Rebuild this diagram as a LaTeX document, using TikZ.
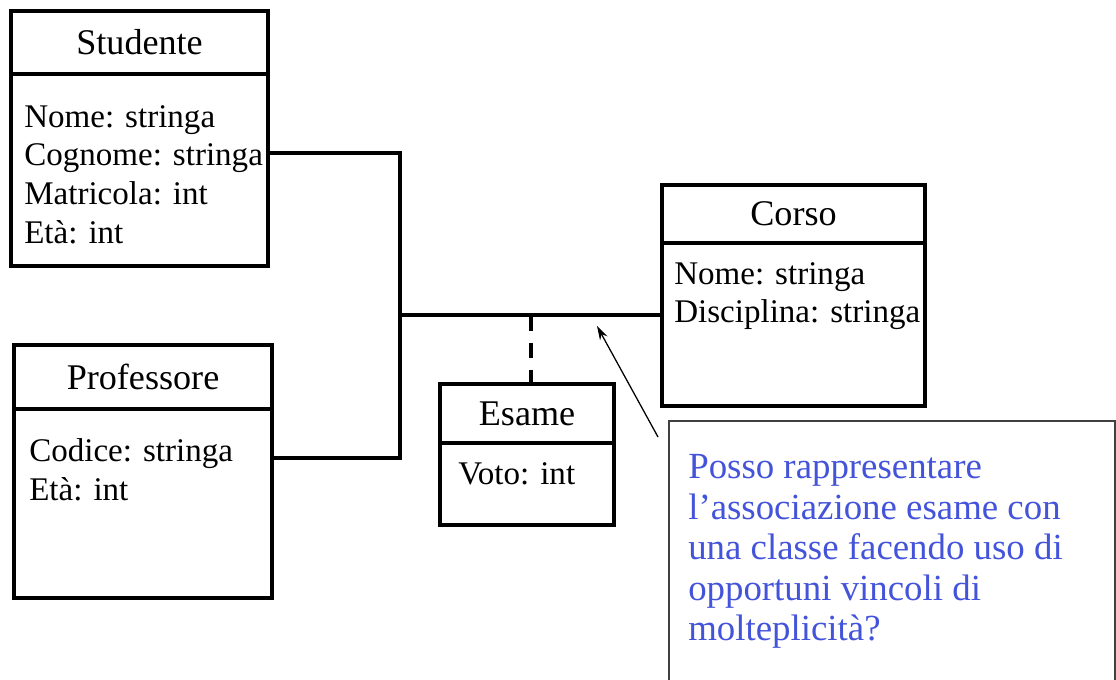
\documentclass[tikz,border=0pt]{standalone}
\usepackage{fontspec}
\setmainfont{Liberation Serif}
\usetikzlibrary{positioning,arrows.meta}
\definecolor{noteblue}{RGB}{68,84,218}

\begin{document}
\begin{tikzpicture}[
    x=0.025cm, y=-0.025cm,
    box/.style={draw, line width=2.3pt, outer sep=0pt, inner sep=0pt},
    classname/.style={box, font=\fontsize{25.7}{30}\selectfont},
    classbody/.style={box},
    attrs/.style={anchor=north west, align=left, inner sep=0pt, font=\fontsize{23.5}{27.6}\selectfont},
    assoc/.style={line width=2.3pt},
    notebox/.style={draw=black!75, line width=1pt, outer sep=0pt},
    notetext/.style={anchor=north west, align=left, inner sep=0pt, text=noteblue, font=\fontsize{26.2}{28.9}\selectfont}
]
\clip (0,0) rectangle (1116,679);

% Studente
\node[classname, minimum width=6.425cm, minimum height=1.575cm, anchor=north west] (stud) at (11,11) {Studente};
\node[classbody, minimum width=6.425cm, minimum height=4.8cm, below=0pt of stud] (studA) {};
\node[attrs] (studL) at (24,105) {Nome: stringa\\Cognome: stringa\\Matricola: int\\Età: int};

% Professore
\node[classname, minimum width=6.45cm, minimum height=1.6cm, anchor=north west] (prof) at (14,345) {Professore};
\node[classbody, minimum width=6.45cm, minimum height=4.725cm, below=0pt of prof] (profA) {};
\node[attrs] (profL) at (29,438) {Codice: stringa\\Età: int};

% Corso
\node[classname, minimum width=6.575cm, minimum height=1.45cm, anchor=north west] (corso) at (662,185) {Corso};
\node[classbody, minimum width=6.575cm, minimum height=4.075cm, below=0pt of corso] (corsoA) {};
\node[attrs] (corsoL) at (674,262) {Nome: stringa\\Disciplina: stringa};

% Esame
\node[classname, minimum width=4.35cm, minimum height=1.475cm, anchor=north west] (esame) at (440,384) {Esame};
\node[classbody, minimum width=4.35cm, minimum height=2.05cm, below=0pt of esame] (esameA) {};
\node[attrs] (esameL) at (458,462) {Voto: int};

% Associazione
\coordinate (j1) at (400,153);
\coordinate (j2) at (400,458);
\coordinate (j3) at (400,315);
\coordinate (j4) at (531,316);
\draw[assoc] (j1 -| studA.east) -- (j1) -- (j2) -- (j2 -| profA.east);
\draw[assoc] (j3) -- (j3 -| corsoA.west);
\draw[assoc, dash pattern=on 10.6pt off 8.5pt] (j4) -- (j4 |- esame.north);

% Nota
\node[notebox, minimum width=11.15cm, minimum height=7cm, anchor=north west] (note) at (669,421) {};
\node[notetext] (noteL) at (688,454) {Posso rappresentare\\l'associazione esame con\\una classe facendo uso di\\opportuni vincoli di\\molteplicità?};
\coordinate (ptr) at (658,437);
\coordinate (ptrtip) at (597,326);
\draw[line width=0.9pt, -{Stealth[length=10pt, width=6pt]}] (ptr) -- (ptrtip);

\end{tikzpicture}
\end{document}
